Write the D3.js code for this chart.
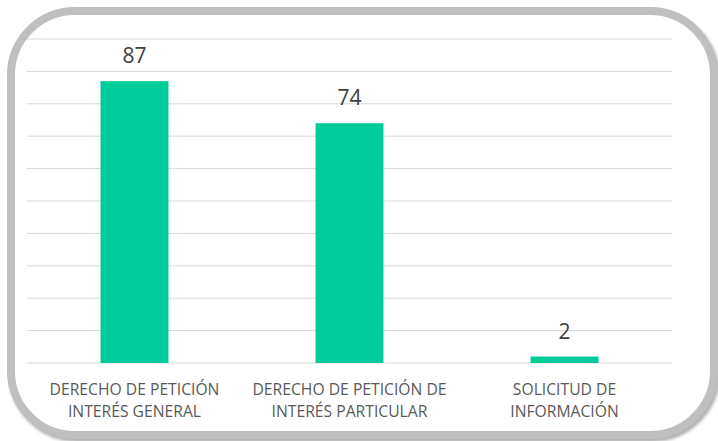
<!DOCTYPE html>
<html>
<head>
<meta charset="utf-8">
<script src="https://cdn.jsdelivr.net/npm/d3@7"></script>
<style>
  body { margin: 0; background: #fff; }
  svg { display: block; font-family: "Open Sans", sans-serif; }
</style>
</head>
<body>
<svg id="chart"></svg>
<script>
// chart data
const categories = [
  ["DERECHO DE PETICIÓN", "INTERÉS GENERAL"],
  ["DERECHO DE PETICIÓN DE", "INTERÉS PARTICULAR"],
  ["SOLICITUD DE", "INFORMACIÓN"]
];
const values = [87, 74, 2];
const gridTicks = [0, 10, 20, 30, 40, 50, 60, 70, 80, 90, 100];

const width = 718, height = 441;
const margin = { top: 39, right: 46, bottom: 78, left: 27 };

const svg = d3.select("#chart")
  .attr("width", width)
  .attr("height", height);

const defs = svg.append("defs");
const filter = defs.append("filter")
  .attr("id", "shadow")
  .attr("x", "-10%").attr("y", "-10%")
  .attr("width", "120%").attr("height", "120%");
filter.append("feDropShadow")
  .attr("dx", 2)
  .attr("dy", 3)
  .attr("stdDeviation", 1.5)
  .attr("flood-color", "#7f7f7f")
  .attr("flood-opacity", 0.6);

// rounded frame
svg.append("rect")
  .attr("x", 11)
  .attr("y", 11)
  .attr("width", 703)
  .attr("height", 424)
  .attr("rx", 64)
  .attr("ry", 64)
  .attr("fill", "#fff")
  .attr("stroke", "#bfbfbf")
  .attr("stroke-width", 8)
  .attr("filter", "url(#shadow)");

const x = d3.scaleBand()
  .domain(d3.range(categories.length))
  .range([margin.left, width - margin.right])
  .paddingInner(0.684)
  .paddingOuter(0.342);

const y = d3.scaleLinear()
  .domain([0, 100])
  .range([height - margin.bottom, margin.top]);

// gridlines
svg.append("g")
  .selectAll("line")
  .data(gridTicks)
  .join("line")
  .attr("x1", margin.left)
  .attr("x2", width - margin.right)
  .attr("y1", d => y(d))
  .attr("y2", d => y(d))
  .attr("stroke", "#d9d9d9")
  .attr("stroke-width", 1);

// bars
svg.append("g")
  .selectAll("rect")
  .data(values)
  .join("rect")
  .attr("x", (d, i) => x(i))
  .attr("y", d => y(d))
  .attr("width", x.bandwidth())
  .attr("height", d => y(0) - y(d))
  .attr("fill", "#00cc99");

// value labels
svg.append("g")
  .selectAll("text")
  .data(values)
  .join("text")
  .attr("x", (d, i) => x(i) + x.bandwidth() / 2)
  .attr("y", d => y(d) - 18)
  .attr("text-anchor", "middle")
  .attr("fill", "#404040")
  .style("font-size", "21px")
  .text(d => d);

// category labels
const labels = svg.append("g")
  .selectAll("text")
  .data(categories)
  .join("text")
  .attr("text-anchor", "middle")
  .attr("fill", "#595959")
  .style("font-size", "15.7px");

labels.selectAll("tspan")
  .data((d, i) => d.map(t => ({ t, i })))
  .join("tspan")
  .attr("x", d => x(d.i) + x.bandwidth() / 2)
  .attr("y", (d, j) => 395 + j * 22)
  .text(d => d.t);
</script>
</body>
</html>
